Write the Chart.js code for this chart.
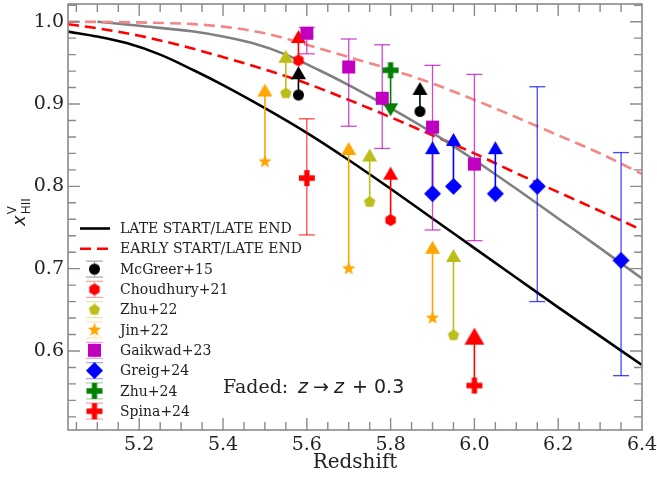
<!DOCTYPE html>
<html>
<head>
<meta charset="utf-8">
<script src="https://cdn.jsdelivr.net/npm/chart.js@4.4.0/dist/chart.umd.min.js"></script>
<style>
  html, body { margin: 0; padding: 0; background: #fff; }
</style>
</head>
<body>
<canvas id="c" width="657" height="479"></canvas>
<script>
// ---- model curves (redshift, x_HII) ----
const lateZ = [5.03, 5.1, 5.17, 5.25, 5.33, 5.4, 5.5, 5.6, 5.7, 5.8, 5.9, 6.0, 6.1, 6.2, 6.3, 6.4];
const lateX = [0.988, 0.982, 0.974, 0.960, 0.941, 0.923, 0.895, 0.865, 0.832, 0.797, 0.761, 0.725, 0.689, 0.653, 0.618, 0.583];
const lateFadedZ = [5.1, 5.2, 5.33, 5.4, 5.47, 5.55, 5.63, 5.7, 5.8, 5.9, 6.0, 6.1, 6.2, 6.3, 6.4];
const lateFadedX = [1.0, 0.995, 0.988, 0.982, 0.974, 0.960, 0.941, 0.923, 0.895, 0.865, 0.832, 0.797, 0.761, 0.725, 0.688];
const earlyZ = [5.03, 5.1, 5.2, 5.3, 5.4, 5.5, 5.6, 5.7, 5.8, 5.9, 6.0, 6.1, 6.2, 6.3, 6.4];
const earlyX = [0.997, 0.992, 0.983, 0.971, 0.957, 0.942, 0.925, 0.905, 0.884, 0.862, 0.840, 0.816, 0.793, 0.770, 0.747];
const earlyFadedZ = [5.03, 5.15, 5.25, 5.33, 5.4, 5.5, 5.6, 5.7, 5.8, 5.9, 6.0, 6.1, 6.2, 6.3, 6.4];
const earlyFadedX = [1.0, 0.9995, 0.9985, 0.997, 0.994, 0.986, 0.972, 0.957, 0.942, 0.925, 0.905, 0.884, 0.862, 0.840, 0.815];

// ---- observations ----
const mcgreerZ = [5.58, 5.87];
const mcgreerX = [0.911, 0.891];
const mcgreerLim = [0.938, 0.919];

const choudhuryZ = [5.58, 5.80];
const choudhuryX = [0.953, 0.759];
const choudhuryLim = [0.982, 0.816];

const zhu22Z = [5.55, 5.75, 5.95];
const zhu22X = [0.913, 0.781, 0.619];
const zhu22Lim = [0.958, 0.838, 0.716];

const jinZ = [5.50, 5.70, 5.90];
const jinX = [0.830, 0.700, 0.640];
const jinLim = [0.917, 0.846, 0.726];

const gaikwadZ = [5.60, 5.70, 5.78, 5.90, 6.00];
const gaikwadX = [0.986, 0.945, 0.907, 0.872, 0.827];
const gaikwadHi = [0.993, 0.979, 0.972, 0.947, 0.936];
const gaikwadLo = [0.961, 0.873, 0.846, 0.747, 0.734];

const greigZ = [5.90, 5.95, 6.05, 6.15, 6.35];
const greigX = [0.791, 0.800, 0.791, 0.800, 0.710];
const greigLim = [0.847, 0.857, 0.847, null, null];
const greigHi = [null, null, null, 0.921, 0.841];
const greigLo = [null, null, null, 0.660, 0.570];

const zhu24Z = [5.80];
const zhu24X = [0.941];
const zhu24Lim = [0.893]; // upper limit, arrow points down

const spinaZ = [5.60, 6.00];
const spinaX = [0.810, 0.558];
const spinaHi = [0.882, null];
const spinaLo = [0.741, null];
const spinaLim = [null, 0.618];

// ---- axes ----
const xTickVals = [5.2, 5.4, 5.6, 5.8, 6.0, 6.2, 6.4];
const yTickVals = [0.6, 0.7, 0.8, 0.9, 1.0];

const SERIF = "'DejaVu Serif', serif";
const SANS = "'DejaVu Sans', sans-serif";

function hexA(hex, a) {
  const n = parseInt(hex.slice(1), 16);
  return `rgba(${n >> 16},${(n >> 8) & 255},${n & 255},${a})`;
}

const ring = (n, r0, r1) => Array.from({ length: n }, (_, k) => {
  const a = -Math.PI / 2 + k * Math.PI * 2 / n;
  const r = k % 2 ? r1 : r0;
  return [r * Math.cos(a), r * Math.sin(a)];
});
const t = 0.33;
const SHAPES = {
  hexagon: ring(6, 1, 1),
  pentagon: ring(5, 1, 1),
  star: ring(10, 1, 0.42),
  square: [[-1, -1], [1, -1], [1, 1], [-1, 1]],
  diamond: [[0, -1], [1, 0], [0, 1], [-1, 0]],
  plus: [[-t, -1], [t, -1], [t, -t], [1, -t], [1, t], [t, t], [t, 1], [-t, 1], [-t, t], [-1, t], [-1, -t], [-t, -t]],
  triUp: [[0, -1], [1, 1], [-1, 1]],
  triDown: [[0, 1], [1, -1], [-1, -1]]
};

function makeMarker(shape, color, w, h) {
  const c = document.createElement('canvas');
  c.width = Math.round(w) + 2;
  c.height = Math.round(h) + 2;
  const g = c.getContext('2d');
  g.fillStyle = color;
  g.translate(c.width / 2, c.height / 2);
  g.scale(w / 2, h / 2);
  g.beginPath();
  if (shape === 'circle') g.arc(0, 0, 1, 0, Math.PI * 2);
  else SHAPES[shape].forEach(([px, py], i) => i ? g.lineTo(px, py) : g.moveTo(px, py));
  g.closePath();
  g.fill();
  return c;
}

const pts = (zs, ys) => zs.map((z, i) => ({ x: z, y: ys[i] })).filter(p => p.y != null);
function segs(zs, a, b) {
  const out = [];
  zs.forEach((z, i) => {
    if (a[i] == null || b[i] == null) return;
    out.push({ x: z, y: a[i] }, { x: z, y: b[i] }, { x: z, y: null });
  });
  return out;
}

const surveys = [
  { label: 'McGreer+15', color: '#000000', shape: 'circle', w: 11, h: 11, z: mcgreerZ, v: mcgreerX, lim: mcgreerLim },
  { label: 'Choudhury+21', color: '#ff0000', shape: 'hexagon', w: 12, h: 12, z: choudhuryZ, v: choudhuryX, lim: choudhuryLim },
  { label: 'Zhu+22', color: '#bdbd1a', shape: 'pentagon', w: 12, h: 12, z: zhu22Z, v: zhu22X, lim: zhu22Lim },
  { label: 'Jin+22', color: '#ffa500', shape: 'star', w: 14, h: 14, z: jinZ, v: jinX, lim: jinLim },
  { label: 'Gaikwad+23', color: '#bf00bf', shape: 'square', w: 13, h: 13, z: gaikwadZ, v: gaikwadX, hi: gaikwadHi, lo: gaikwadLo },
  { label: 'Greig+24', color: '#0000ff', shape: 'diamond', w: 17, h: 17, z: greigZ, v: greigX, lim: greigLim, hi: greigHi, lo: greigLo },
  { label: 'Zhu+24', color: '#008000', shape: 'plus', w: 16, h: 16, z: zhu24Z, v: zhu24X, lim: zhu24Lim, down: true },
  { label: 'Spina+24', color: '#ff0000', shape: 'plus', w: 16, h: 16, z: spinaZ, v: spinaX, lim: spinaLim, hi: spinaHi, lo: spinaLo, bigArrow: true }
];

const datasets = [];
surveys.forEach(s => {
  s.img = makeMarker(s.shape, s.color, s.w, s.h);
  datasets.push({ type: 'scatter', label: s.label, data: pts(s.z, s.v), pointStyle: s.img, pointRadius: 6, order: 1 });
  if (s.lim) {
    const tri = s.bigArrow ? makeMarker('triUp', s.color, 20, 17)
      : makeMarker(s.down ? 'triDown' : 'triUp', s.color, 15, 13);
    datasets.push({ type: 'line', data: segs(s.z, s.v, s.lim), borderColor: s.color, borderWidth: 1.6,
      pointRadius: 0, spanGaps: false, order: 3 });
    datasets.push({ type: 'scatter', data: pts(s.z, s.lim), pointStyle: tri, pointRadius: 6, order: 2 });
  }
  if (s.hi) {
    const bar = hexA(s.color, 0.72);
    datasets.push({ type: 'line', data: segs(s.z, s.lo, s.hi), borderColor: bar, borderWidth: 1.3,
      pointRadius: 0, spanGaps: false, order: 3 });
    datasets.push({ type: 'scatter', data: pts(s.z, s.hi).concat(pts(s.z, s.lo)), pointStyle: 'line',
      pointRadius: 8, pointBorderColor: bar, pointBorderWidth: 1.3, order: 3 });
  }
});

const curve = (zs, ys, color, dash) => ({
  type: 'line', data: pts(zs, ys), borderColor: color, borderWidth: 2.6, borderDash: dash || [],
  pointRadius: 0, cubicInterpolationMode: 'monotone', order: 10
});
datasets.push(curve(earlyFadedZ, earlyFadedX, '#f48686', [11, 6]));
datasets.push(curve(lateFadedZ, lateFadedX, '#808080'));
datasets.push(curve(earlyZ, earlyX, '#ff0000', [11, 6]));
datasets.push(curve(lateZ, lateX, '#000000'));

const decor = {
  id: 'decor',
  afterDatasetsDraw(chart) {
    const { ctx, chartArea: a, scales: { x, y } } = chart;
    ctx.save();
    ctx.strokeStyle = '#8a8a8a';
    ctx.lineWidth = 1.4;
    ctx.beginPath();
    for (let i = 1; i <= 27; i++) {
      const v = 5 + i * 0.05;
      const p = x.getPixelForValue(v);
      const L = xTickVals.some(tv => Math.abs(tv - v) < 1e-6) ? 12 : 8;
      ctx.moveTo(p, a.bottom); ctx.lineTo(p, a.bottom - L);
      ctx.moveTo(p, a.top); ctx.lineTo(p, a.top + L);
    }
    for (let i = 26; i <= 51; i++) {
      const v = i * 0.02;
      const p = y.getPixelForValue(v);
      const L = yTickVals.some(tv => Math.abs(tv - v) < 1e-6) ? 12 : 8;
      ctx.moveTo(a.left, p); ctx.lineTo(a.left + L, p);
      ctx.moveTo(a.right, p); ctx.lineTo(a.right - L, p);
    }
    ctx.stroke();
    ctx.lineWidth = 1.6;
    ctx.strokeRect(a.left, a.top, a.right - a.left, a.bottom - a.top);
    ctx.restore();
  },
  afterDraw(chart) {
    const ctx = chart.ctx;
    ctx.save();
    ctx.fillStyle = '#222';
    // y axis label  x^V_HII
    ctx.translate(25, 226);
    ctx.rotate(-Math.PI / 2);
    ctx.textBaseline = 'alphabetic';
    ctx.font = `italic 18px ${SANS}`;
    ctx.fillText('x', 0, 0);
    const w = ctx.measureText('x').width;
    ctx.font = `12px ${SANS}`;
    ctx.fillText('V', w + 1, -9);
    ctx.fillText('HII', w + 1, 5);
    ctx.setTransform(1, 0, 0, 1, 0, 0);

    // annotation
    const by = 393;
    ctx.font = `19px ${SERIF}`;
    ctx.fillText('Faded:', 223, by);
    ctx.font = `italic 19px ${SANS}`;
    ctx.fillText('z', 298, by);
    ctx.fillText('z', 334, by);
    ctx.font = `19px ${SANS}`;
    ctx.fillText('\u2192', 313, by);
    ctx.fillText('+', 352, by);
    ctx.fillText('0.3', 374, by);

    // legend
    const rows = [
      { label: 'LATE START/LATE END', line: '#000000' },
      { label: 'EARLY START/LATE END', line: '#ff0000', dash: [11, 6] }
    ].concat(surveys);
    ctx.textBaseline = 'middle';
    rows.forEach((r, i) => {
      const yy = 228.5 + i * 20.3;
      if (r.line) {
        ctx.strokeStyle = r.line;
        ctx.lineWidth = 2.6;
        ctx.setLineDash(r.dash || []);
        ctx.beginPath(); ctx.moveTo(80, yy); ctx.lineTo(110, yy); ctx.stroke();
        ctx.setLineDash([]);
      } else {
        ctx.strokeStyle = hexA(r.color, 0.35);
        ctx.lineWidth = 1.2;
        ctx.beginPath();
        ctx.moveTo(94.5, yy - 8); ctx.lineTo(94.5, yy + 8);
        ctx.moveTo(86, yy - 8); ctx.lineTo(103, yy - 8);
        ctx.moveTo(86, yy + 8); ctx.lineTo(103, yy + 8);
        ctx.stroke();
        ctx.drawImage(r.img, 94.5 - r.img.width / 2, yy - r.img.height / 2);
      }
      ctx.fillStyle = '#222';
      ctx.font = `14px ${SERIF}`;
      ctx.fillText(r.label, 120, yy + 1);
    });
    ctx.restore();
  }
};

new Chart(document.getElementById('c'), {
  type: 'scatter',
  data: { datasets },
  options: {
    responsive: false,
    animation: false,
    events: [],
    layout: { autoPadding: false, padding: { left: 0, right: 15, top: 4, bottom: 0 } },
    plugins: { legend: { display: false }, tooltip: { enabled: false } },
    scales: {
      x: {
        type: 'linear', min: 5.03, max: 6.4,
        afterBuildTicks: axis => { axis.ticks = xTickVals.map(v => ({ value: v })); },
        afterFit: scale => { scale.height = 49; scale.paddingLeft = 0; scale.paddingRight = 0; },
        grid: { display: false, drawTicks: false },
        border: { display: false },
        ticks: { color: '#222', padding: 4, maxRotation: 0, font: { family: SERIF, size: 19 }, callback: v => v.toFixed(1) },
        title: { display: true, text: 'Redshift', color: '#222', font: { family: SERIF, size: 20 }, padding: { top: 0, bottom: 4 } }
      },
      y: {
        type: 'linear', min: 0.504, max: 1.0215,
        afterBuildTicks: axis => { axis.ticks = yTickVals.map(v => ({ value: v })); },
        afterFit: scale => { scale.width = 68; scale.paddingTop = 0; scale.paddingBottom = 0; },
        grid: { display: false, drawTicks: false },
        border: { display: false },
        ticks: { color: '#222', padding: 4, font: { family: SERIF, size: 19 }, callback: v => v.toFixed(1) }
      }
    }
  },
  plugins: [decor]
});
</script>
</body>
</html>
